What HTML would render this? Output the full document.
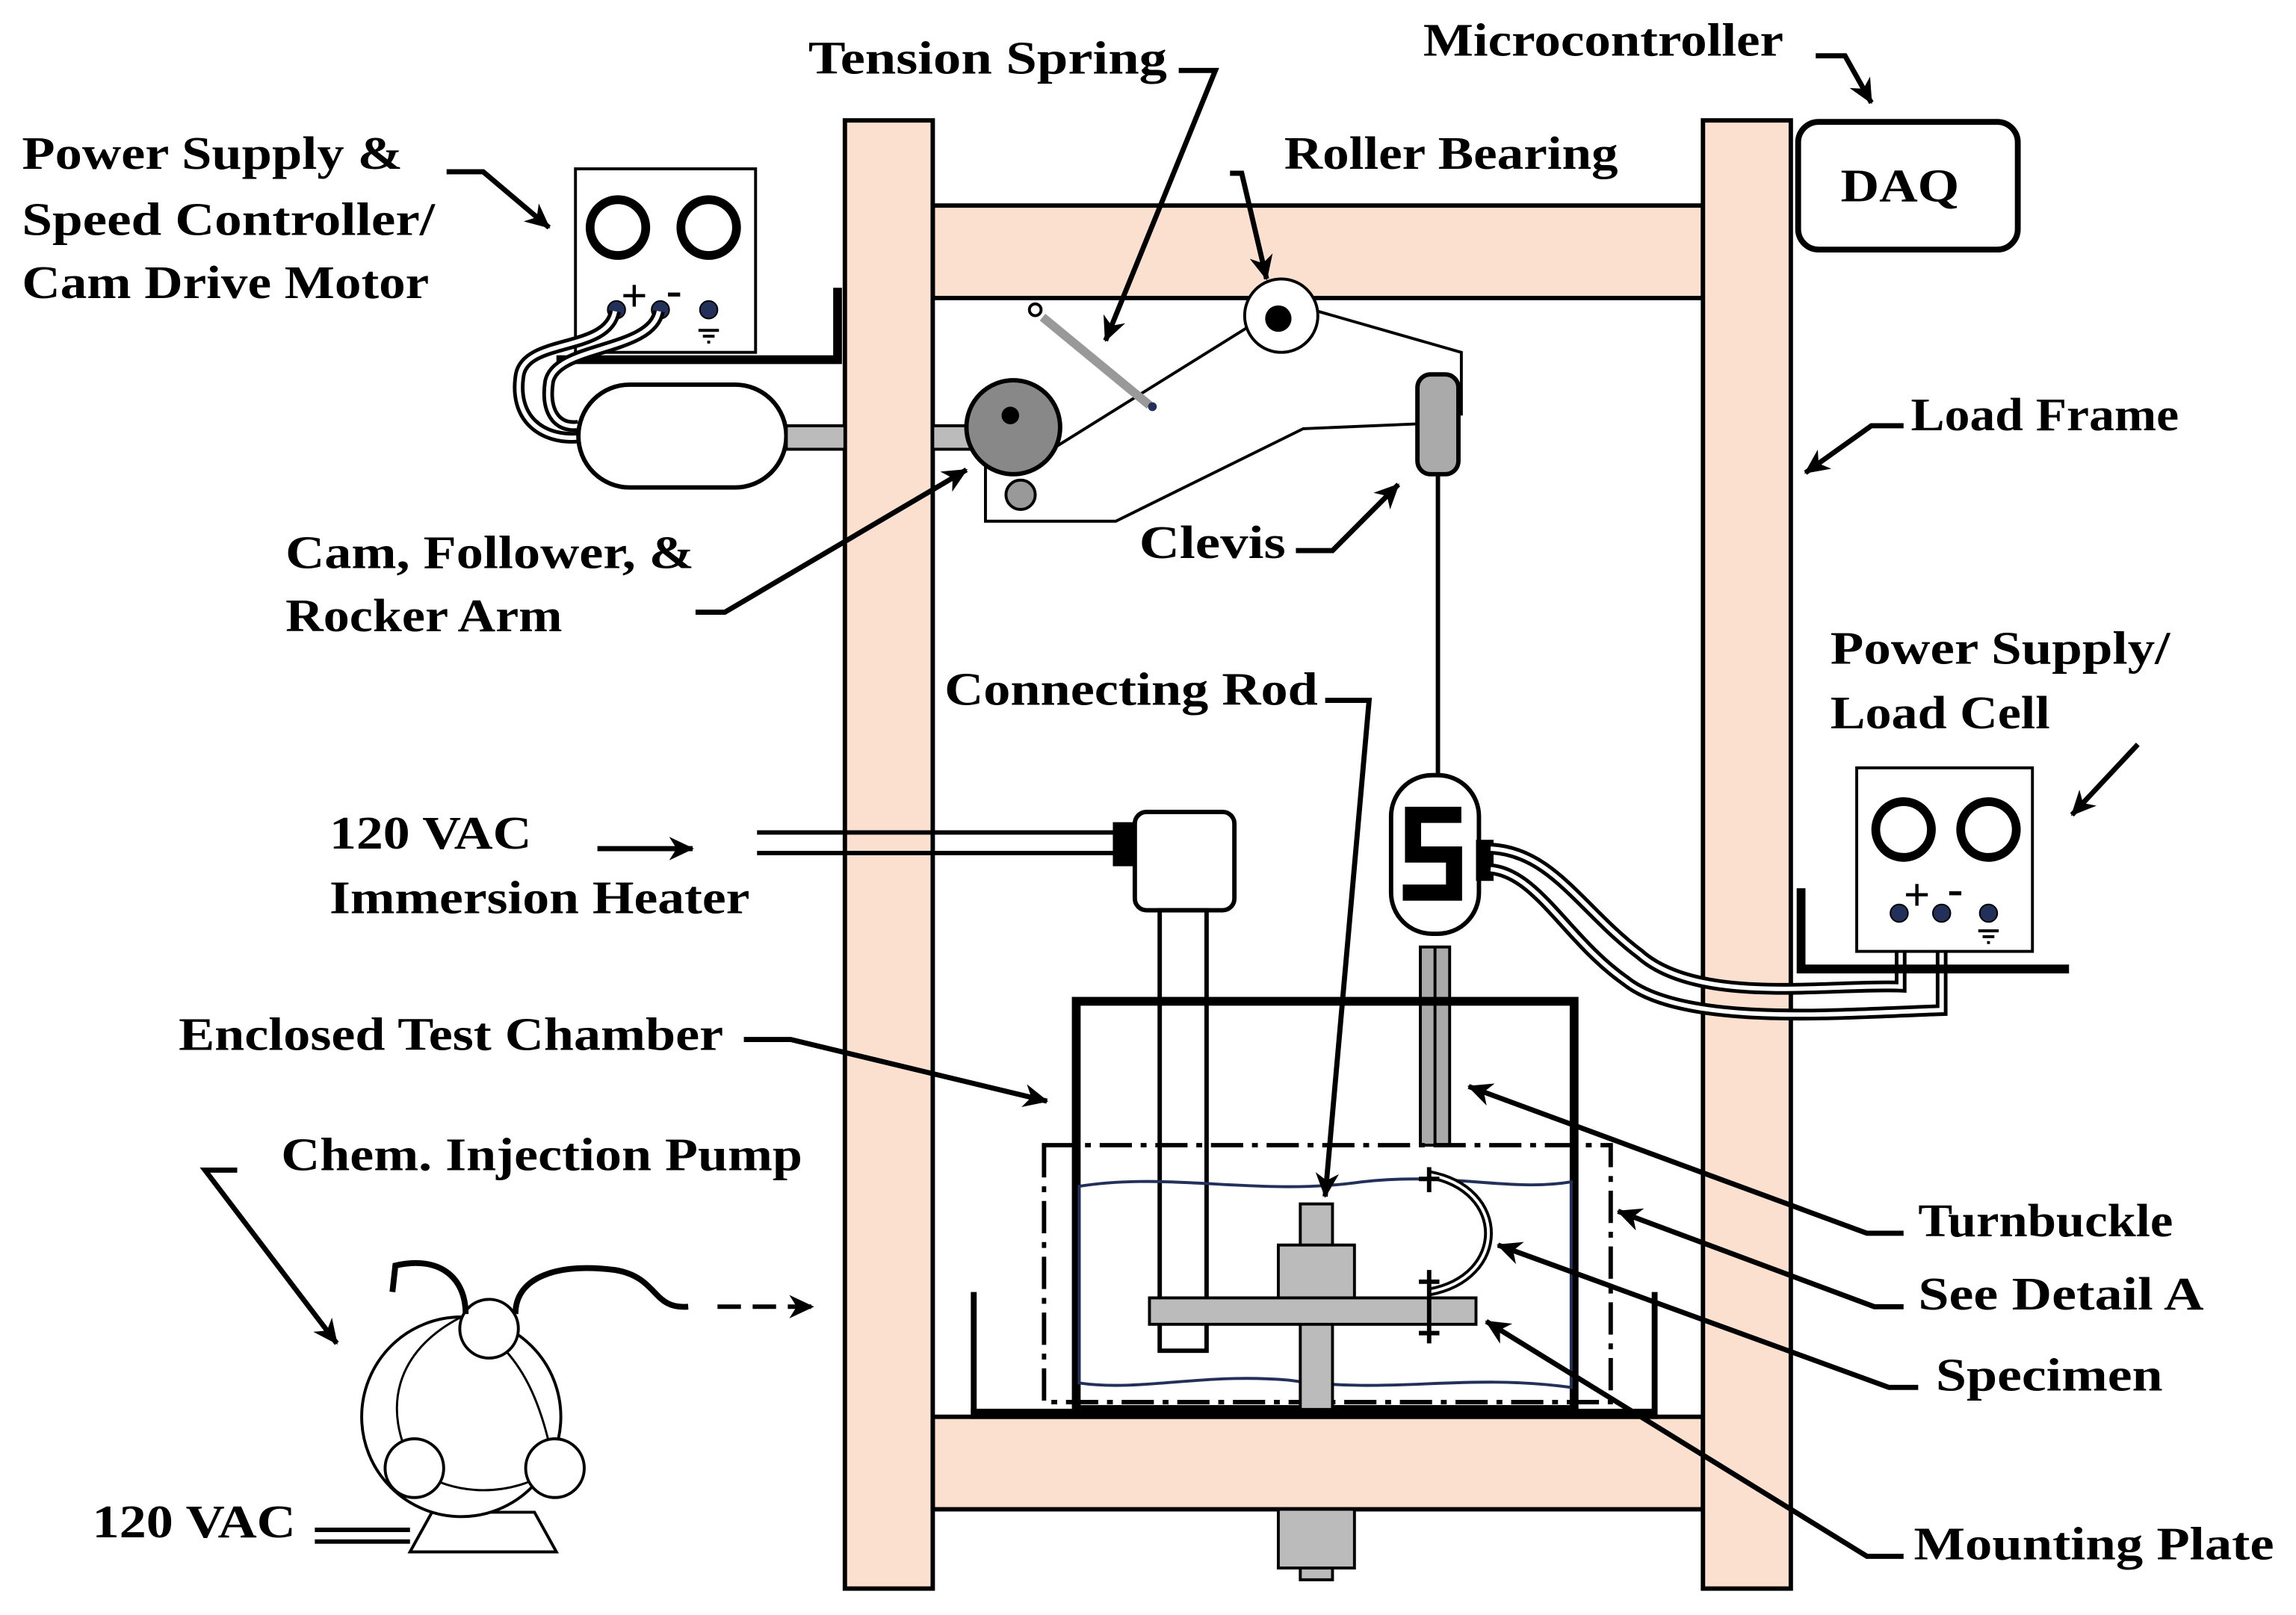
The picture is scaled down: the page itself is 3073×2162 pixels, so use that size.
<!DOCTYPE html>
<html><head><meta charset="utf-8"><style>
html,body{margin:0;padding:0;background:#fff}
svg{display:block}
text{font-family:"Liberation Serif",serif;font-weight:bold;font-size:32px;fill:#000}
</style></head><body>
<svg width="3073" height="2162" viewBox="0 0 1568 1100" preserveAspectRatio="none" xmlns="http://www.w3.org/2000/svg">
<defs>
<marker id="b" markerWidth="18" markerHeight="18" refX="16" refY="9" orient="auto" markerUnits="userSpaceOnUse" viewBox="0 0 18 18">
<path d="M0,1 L17,9 L0,17 L5,9z" fill="#000"/></marker>
</defs>
<rect width="1568" height="1100" fill="#fff"/>
<g fill="#fbe0cf" stroke="#000" stroke-width="3">
<rect x="637" y="140" width="526" height="63"/>
<rect x="637" y="965" width="526" height="63"/>
<rect x="577" y="82" width="60" height="1000"/>
<rect x="1163" y="82" width="60" height="1000"/>
</g>
<rect x="1228" y="83" width="150" height="87" rx="14" fill="#fff" stroke="#000" stroke-width="4"/>
<text x="1257" y="137" textLength="81" lengthAdjust="spacingAndGlyphs">DAQ</text>
<rect x="393" y="115" width="123" height="125" fill="#fff" stroke="#000" stroke-width="2"/>
<circle cx="422" cy="155" r="19" fill="none" stroke="#000" stroke-width="6"/>
<circle cx="484" cy="155" r="19" fill="none" stroke="#000" stroke-width="6"/>
<g fill="#23305a" stroke="#000"><circle cx="421" cy="211" r="6"/><circle cx="451" cy="211" r="6"/><circle cx="484" cy="211" r="6"/></g>
<text x="424" y="212" font-size="20">+</text><text x="455" y="208" font-size="20">-</text>
<path d="M477,225h14M480,229h8M483,233h2" stroke="#000" stroke-width="2"/>
<path d="M380,245H572V196" stroke="#000" stroke-width="6" fill="none"/>
<path d="M420,212 C415,240 360,230 355,255 C350,285 370,300 395,298" stroke="#000" stroke-width="8" fill="none"/>
<path d="M420,212 C415,240 360,230 355,255 C350,285 370,300 395,298" stroke="#fff" stroke-width="3" fill="none"/>
<path d="M450,212 C445,240 380,235 375,260 C372,280 380,292 395,290" stroke="#000" stroke-width="8" fill="none"/>
<path d="M450,212 C445,240 380,235 375,260 C372,280 380,292 395,290" stroke="#fff" stroke-width="3" fill="none"/>
<rect x="395" y="262" width="142" height="70" rx="35" fill="#fff" stroke="#000" stroke-width="3"/>
<rect x="537" y="290" width="40" height="16" fill="#bbb" stroke="#000" stroke-width="2"/>
<rect x="637" y="290" width="30" height="16" fill="#bbb" stroke="#000" stroke-width="2"/>
<path d="M673,318V355H762L890,292L985,288" fill="none" stroke="#000" stroke-width="2"/>
<path d="M720,305L860,218" fill="none" stroke="#000" stroke-width="2"/>
<path d="M900,212L998,240V283" fill="none" stroke="#000" stroke-width="2"/>
<circle cx="697" cy="337" r="10" fill="#999" stroke="#000" stroke-width="2"/>
<circle cx="692" cy="291" r="32" fill="#888" stroke="#000" stroke-width="3"/>
<circle cx="690" cy="283" r="6" fill="#000"/>
<circle cx="875" cy="215" r="25" fill="#fff" stroke="#000" stroke-width="2"/>
<circle cx="873" cy="217" r="9" fill="#000"/>
<line x1="712" y1="216" x2="785" y2="276" stroke="#999" stroke-width="6"/>
<circle cx="707" cy="211" r="4" fill="#fff" stroke="#000" stroke-width="2"/>
<circle cx="787" cy="277" r="3" fill="#23305a"/>
<rect x="968" y="255" width="28" height="68" rx="9" fill="#aaa" stroke="#000" stroke-width="3"/>
<line x1="982" y1="323" x2="982" y2="528" stroke="#000" stroke-width="3"/>
<rect x="950" y="528" width="60" height="108" rx="28" fill="#fff" stroke="#000" stroke-width="3"/>
<path d="M998,555H965V582H993V608H958" fill="none" stroke="#000" stroke-width="11"/>
<rect x="1008" y="572" width="12" height="28" fill="#000"/>
<rect x="970" y="645" width="20" height="135" fill="#aaa" stroke="#000" stroke-width="2"/>
<line x1="980" y1="645" x2="980" y2="780" stroke="#000" stroke-width="2"/>
<path d="M1018,578 C1060,580 1080,620 1120,650 C1160,685 1250,670 1298,672 V622" fill="none" stroke="#000" stroke-width="8"/>
<path d="M1018,578 C1060,580 1080,620 1120,650 C1160,685 1250,670 1298,672 V622" fill="none" stroke="#fff" stroke-width="3"/>
<path d="M1018,592 C1050,595 1070,640 1110,668 C1150,700 1260,690 1326,688 V622" fill="none" stroke="#000" stroke-width="8"/>
<path d="M1018,592 C1050,595 1070,640 1110,668 C1150,700 1260,690 1326,688 V622" fill="none" stroke="#fff" stroke-width="3"/>
<rect x="1268" y="523" width="120" height="125" fill="#fff" stroke="#000" stroke-width="2"/>
<circle cx="1300" cy="565" r="19" fill="none" stroke="#000" stroke-width="6"/>
<circle cx="1358" cy="565" r="19" fill="none" stroke="#000" stroke-width="6"/>
<g fill="#23305a" stroke="#000"><circle cx="1297" cy="622" r="6"/><circle cx="1326" cy="622" r="6"/><circle cx="1358" cy="622" r="6"/></g>
<text x="1300" y="620" font-size="20">+</text><text x="1330" y="616" font-size="20">-</text>
<path d="M1351,634h14M1354,638h8M1357,642h2" stroke="#000" stroke-width="2"/>
<path d="M1230,605V660H1413" stroke="#000" stroke-width="6" fill="none"/>
<line x1="517" y1="567" x2="762" y2="567" stroke="#000" stroke-width="3"/>
<line x1="517" y1="581" x2="762" y2="581" stroke="#000" stroke-width="3"/>
<rect x="760" y="560" width="16" height="30" fill="#000"/>
<rect x="775" y="553" width="68" height="67" rx="8" fill="#fff" stroke="#000" stroke-width="3"/>
<rect x="792" y="620" width="32" height="300" fill="#fff" stroke="#000" stroke-width="3"/>
<path d="M665,880V963H1130V880" fill="none" stroke="#000" stroke-width="4"/>
<line x1="663" y1="963" x2="1132" y2="963" stroke="#000" stroke-width="7"/>
<rect x="735" y="682" width="340" height="278" fill="none" stroke="#000" stroke-width="6"/>
<rect x="713" y="780" width="387" height="175" fill="none" stroke="#000" stroke-width="3" stroke-dasharray="22,6,4,6"/>
<path d="M737,808 C800,798 860,815 930,805 C990,798 1030,812 1073,805 V945 C1000,935 950,950 880,940 C820,935 780,948 737,942 Z" fill="none" stroke="#23305a" stroke-width="2"/>
<rect x="888" y="820" width="22" height="140" fill="#bbb" stroke="#000" stroke-width="2"/>
<rect x="873" y="848" width="52" height="36" fill="#bbb" stroke="#000" stroke-width="2"/>
<rect x="785" y="884" width="223" height="18" fill="#bbb" stroke="#000" stroke-width="2"/>
<rect x="888" y="1028" width="22" height="48" fill="#bbb" stroke="#000" stroke-width="2"/>
<rect x="873" y="1028" width="52" height="40" fill="#bbb" stroke="#000" stroke-width="2"/>
<path d="M976,800 C1030,810 1030,870 976,880" fill="none" stroke="#000" stroke-width="6"/>
<path d="M976,800 C1030,810 1030,870 976,880" fill="none" stroke="#fff" stroke-width="2"/>
<path d="M976,795V812M969,803H983M976,865V915M969,873H983M969,908H983" stroke="#000" stroke-width="3"/>
<path d="M280,1057L295,1030H365L380,1057Z" fill="#fff" stroke="#000" stroke-width="2"/>
<circle cx="315" cy="965" r="68" fill="#fff" stroke="#000" stroke-width="2"/>
<path d="M315,897 C270,920 260,960 283,1000 M315,897 C360,920 370,960 379,1000 M283,1000 C310,1020 350,1020 379,1000" fill="none" stroke="#000" stroke-width="1.5"/>
<circle cx="334" cy="905" r="20" fill="#fff" stroke="#000" stroke-width="2"/>
<circle cx="283" cy="1000" r="20" fill="#fff" stroke="#000" stroke-width="2"/>
<circle cx="379" cy="1000" r="20" fill="#fff" stroke="#000" stroke-width="2"/>
<path d="M318,895 C318,870 300,855 270,862 L268,880" fill="none" stroke="#000" stroke-width="4"/>
<path d="M352,895 C352,870 380,860 420,865 C450,870 445,892 470,890" fill="none" stroke="#000" stroke-width="4"/>
<line x1="490" y1="890" x2="555" y2="890" stroke="#000" stroke-width="3" stroke-dasharray="16,8" marker-end="url(#b)"/>
<path d="M215,1042H280M215,1050H280" stroke="#000" stroke-width="3"/>
<g lengthAdjust="spacingAndGlyphs">
<text x="552" y="50" textLength="245" lengthAdjust="spacingAndGlyphs">Tension Spring</text>
<text x="972" y="38" textLength="246" lengthAdjust="spacingAndGlyphs">Microcontroller</text>
<text x="877" y="115" textLength="228" lengthAdjust="spacingAndGlyphs">Roller Bearing</text>
<text x="15" y="115" textLength="260" lengthAdjust="spacingAndGlyphs">Power Supply &amp;</text>
<text x="15" y="160" textLength="282" lengthAdjust="spacingAndGlyphs">Speed Controller/</text>
<text x="15" y="203" textLength="278" lengthAdjust="spacingAndGlyphs">Cam Drive Motor</text>
<text x="1305" y="293" textLength="183" lengthAdjust="spacingAndGlyphs">Load Frame</text>
<text x="195" y="387" textLength="279" lengthAdjust="spacingAndGlyphs">Cam, Follower, &amp;</text>
<text x="195" y="430" textLength="189" lengthAdjust="spacingAndGlyphs">Rocker Arm</text>
<text x="778" y="380" textLength="100" lengthAdjust="spacingAndGlyphs">Clevis</text>
<text x="645" y="480" textLength="255" lengthAdjust="spacingAndGlyphs">Connecting Rod</text>
<text x="1250" y="452" textLength="232" lengthAdjust="spacingAndGlyphs">Power Supply/</text>
<text x="1250" y="496" textLength="150" lengthAdjust="spacingAndGlyphs">Load Cell</text>
<text x="225" y="578" textLength="138" lengthAdjust="spacingAndGlyphs">120 VAC</text>
<text x="225" y="622" textLength="287" lengthAdjust="spacingAndGlyphs">Immersion Heater</text>
<text x="122" y="715" textLength="372" lengthAdjust="spacingAndGlyphs">Enclosed Test Chamber</text>
<text x="192" y="797" textLength="356" lengthAdjust="spacingAndGlyphs">Chem. Injection Pump</text>
<text x="1310" y="842" textLength="174" lengthAdjust="spacingAndGlyphs">Turnbuckle</text>
<text x="1310" y="892" textLength="195" lengthAdjust="spacingAndGlyphs">See Detail A</text>
<text x="1322" y="947" textLength="155" lengthAdjust="spacingAndGlyphs">Specimen</text>
<text x="1307" y="1062" textLength="246" lengthAdjust="spacingAndGlyphs">Mounting Plate</text>
<text x="63" y="1047" textLength="139" lengthAdjust="spacingAndGlyphs">120 VAC</text>
</g>
<g fill="none" stroke="#000" stroke-width="3.5" marker-end="url(#b)">
<path d="M805,48H830L755,232"/>
<path d="M1240,38H1260L1278,70"/>
<path d="M840,118H848L865,190"/>
<path d="M305,117H330L375,155"/>
<path d="M1300,290H1278L1233,322"/>
<path d="M475,417H495L660,320"/>
<path d="M885,375H910L955,330"/>
<path d="M905,477H935L905,815"/>
<path d="M1460,507L1415,555"/>
<path d="M408,578H473"/>
<path d="M508,708H540L715,750"/>
<path d="M162,797H140L230,915"/>
<path d="M1300,840H1275L1003,740"/>
<path d="M1300,890H1280L1105,825"/>
<path d="M1310,945H1290L1023,848"/>
<path d="M1300,1060H1275L1015,900"/>
</g>
</svg>
</body></html>
